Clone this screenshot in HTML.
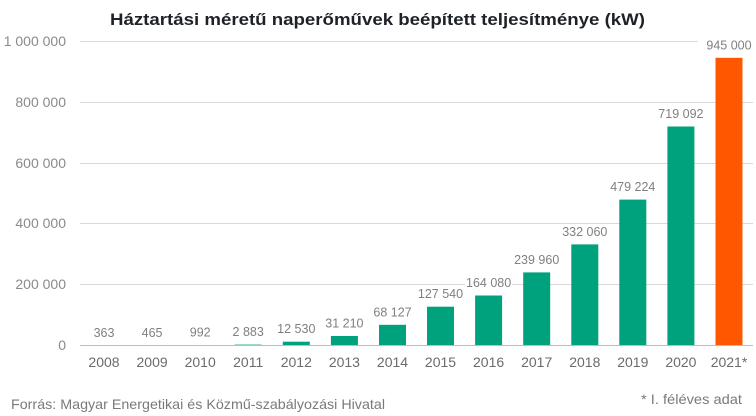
<!DOCTYPE html>
<html><head><meta charset="utf-8"><style>
html,body{margin:0;padding:0;background:#fff;}
svg{display:block;}
</style></head><body>
<svg width="756" height="416" viewBox="0 0 756 416" xmlns="http://www.w3.org/2000/svg" font-family="'Liberation Sans', Arial, sans-serif">
<rect width="756" height="416" fill="#fff"/>
<text x="377.5" y="25" text-anchor="middle" font-size="17" font-weight="bold" fill="#1e2226" textLength="535" lengthAdjust="spacingAndGlyphs">Háztartási méretű naperőművek beépített teljesítménye (kW)</text>
<g stroke="#d9d9d9" stroke-width="1">
<line x1="80" y1="41.5" x2="753" y2="41.5"/>
<line x1="80" y1="102.5" x2="753" y2="102.5"/>
<line x1="80" y1="163.5" x2="753" y2="163.5"/>
<line x1="80" y1="223.5" x2="753" y2="223.5"/>
<line x1="80" y1="284.5" x2="753" y2="284.5"/>
</g>
<g fill="#fff">
<rect x="465" y="278" width="47" height="11"/>
<rect x="698" y="36" width="55" height="13"/>
</g>
<g font-size="14" fill="#8a8a8a" text-anchor="end">
<text x="66" y="46">1 000 000</text>
<text x="66" y="107">800 000</text>
<text x="66" y="168">600 000</text>
<text x="66" y="228">400 000</text>
<text x="66" y="289">200 000</text>
<text x="66" y="350">0</text>
</g>
<g fill="#00a27d">
<rect x="90.5" y="345.4" width="27" height="0.1"/>
<rect x="138.6" y="345.4" width="27" height="0.1"/>
<rect x="186.7" y="345.2" width="27" height="0.3"/>
<rect x="234.7" y="344.6" width="27" height="0.9"/>
<rect x="282.8" y="341.7" width="27" height="3.8"/>
<rect x="330.9" y="336" width="27" height="9.5"/>
<rect x="379" y="324.8" width="27" height="20.7"/>
<rect x="427" y="306.7" width="27" height="38.8"/>
<rect x="475.1" y="295.5" width="27" height="50"/>
<rect x="523.2" y="272.4" width="27" height="73.1"/>
<rect x="571.3" y="244.4" width="27" height="101.1"/>
<rect x="619.3" y="199.6" width="27" height="145.9"/>
<rect x="667.4" y="126.5" width="27" height="219"/>
</g>
<rect x="715.5" y="57.8" width="27" height="287.7" fill="#ff5700"/>
<line x1="80" y1="345.5" x2="753" y2="345.5" stroke="#bdbdbd" stroke-width="1"/>
<g font-size="12.5" fill="#808080" text-anchor="middle">
<text x="104" y="337">363</text>
<text x="152.1" y="337">465</text>
<text x="200.2" y="336.7">992</text>
<text x="248.2" y="336.1">2 883</text>
<text x="296.3" y="333.2">12 530</text>
<text x="344.4" y="327.5">31 210</text>
<text x="392.5" y="316.3">68 127</text>
<text x="440.5" y="298.2">127 540</text>
<text x="488.6" y="287">164 080</text>
<text x="536.7" y="263.9">239 960</text>
<text x="584.8" y="235.9">332 060</text>
<text x="632.8" y="191.1">479 224</text>
<text x="680.9" y="118">719 092</text>
<text x="729" y="49.5">945 000</text>
</g>
<g font-size="14" fill="#6b6b6b" text-anchor="middle">
<text x="104" y="367">2008</text>
<text x="152.1" y="367">2009</text>
<text x="200.2" y="367">2010</text>
<text x="248.2" y="367">2011</text>
<text x="296.3" y="367">2012</text>
<text x="344.4" y="367">2013</text>
<text x="392.5" y="367">2014</text>
<text x="440.5" y="367">2015</text>
<text x="488.6" y="367">2016</text>
<text x="536.7" y="367">2017</text>
<text x="584.8" y="367">2018</text>
<text x="632.8" y="367">2019</text>
<text x="680.9" y="367">2020</text>
<text x="729" y="367">2021*</text>
</g>
<text x="11" y="409" font-size="14" fill="#7a7a7a" textLength="374" lengthAdjust="spacingAndGlyphs">Forrás: Magyar Energetikai és Közmű-szabályozási Hivatal</text>
<text x="641" y="404" font-size="14" fill="#7a7a7a" textLength="101" lengthAdjust="spacingAndGlyphs">* I. féléves adat</text>
</svg>
</body></html>
